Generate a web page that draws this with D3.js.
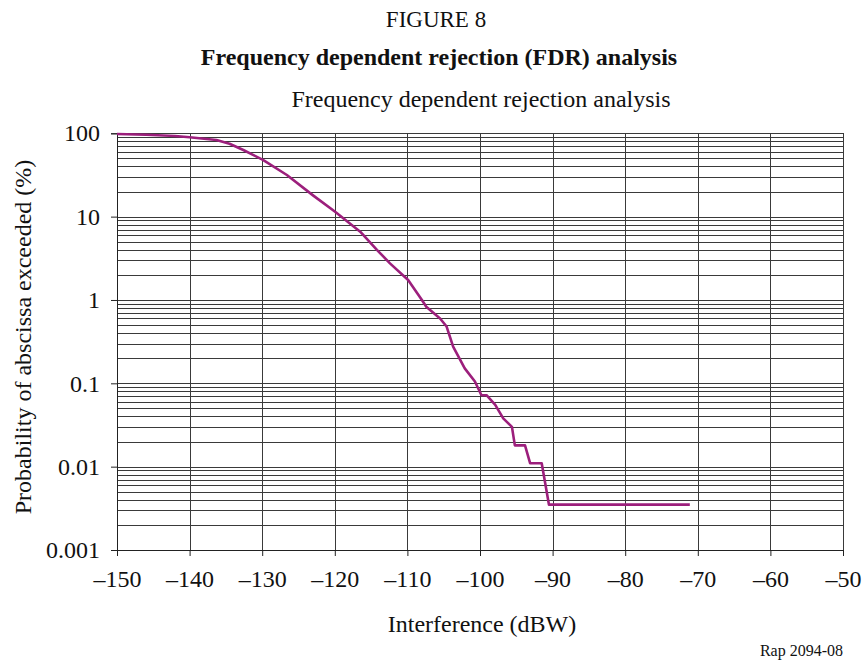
<!DOCTYPE html>
<html>
<head>
<meta charset="utf-8">
<script src="https://cdn.jsdelivr.net/npm/d3@7"></script>
<style>
  html, body { margin: 0; padding: 0; background: #fff; }
  svg { display: block; font-family: "Liberation Serif", "Times New Roman", serif; }
</style>
</head>
<body>
<svg id="chart" width="865" height="662"></svg>
<script>
// Interference level (dBW) and probability that it is exceeded (%)
const interference = [-150, -146, -142, -140, -138, -136.3, -134.5, -132.6, -129.9, -126.6, -123, -120,
  -116.5, -114.2, -112.4, -109.9, -108.0, -107.4, -105.5, -104.6, -103.7, -102.1, -100.7, -99.8, -99.1,
  -97.9, -96.8, -95.6, -95.2, -93.8, -93.1, -91.5, -90.5, -71.1];
const probability = [98, 96, 93, 89.5, 86, 83, 75, 63, 48, 31.6, 18, 11.5,
  6.6, 4.0, 2.75, 1.74, 1.0, 0.83, 0.60, 0.48, 0.275, 0.151, 0.105, 0.072, 0.072,
  0.055, 0.038, 0.030, 0.018, 0.018, 0.011, 0.011, 0.0035, 0.0035];

const xTicks = [-150, -140, -130, -120, -110, -100, -90, -80, -70, -60, -50];
const yTicks = [100, 10, 1, 0.1, 0.01, 0.001];
const yTickLabels = ["100", "10", "1", "0.1", "0.01", "0.001"];

(function draw() {
  const svg = d3.select("#chart");
  const mLeft = 117, mRight = 843, mTop = 133.3, mBottom = 550;
  const ink = "#111";

  const x = d3.scaleLinear().domain([-150, -50]).range([mLeft, mRight]);
  const y = d3.scaleLog().domain([0.001, 100]).range([mBottom, mTop]);

  // Grid: minor log lines (2..9 per decade) plus decades, and vertical lines every 10 dB
  const minor = [];
  for (let d = 0.001; d < 100; d *= 10) {
    for (let m = 2; m <= 9; m++) minor.push(+(d * m).toPrecision(3));
  }
  const grid = svg.append("g").attr("shape-rendering", "crispEdges");
  grid.selectAll("line.h").data(minor.concat(yTicks)).join("line")
    .attr("x1", mLeft).attr("x2", mRight)
    .attr("y1", d => Math.round(y(d)) + 0.5).attr("y2", d => Math.round(y(d)) + 0.5)
    .attr("stroke", "#3a3a3a").attr("stroke-width", 1);
  grid.selectAll("line.v").data(xTicks).join("line")
    .attr("x1", d => Math.round(x(d)) + 0.5).attr("x2", d => Math.round(x(d)) + 0.5)
    .attr("y1", mTop).attr("y2", mBottom)
    .attr("stroke", "#3a3a3a").attr("stroke-width", 1);

  // Axes
  const xAxis = d3.axisBottom(x).tickValues(xTicks).tickSize(6).tickPadding(14)
    .tickFormat(d => String(d).replace("-", "\u2013"));
  const gx = svg.append("g").attr("transform", `translate(0,${mBottom})`).call(xAxis);
  gx.select(".domain").attr("stroke", "#222");
  gx.selectAll(".tick line").attr("stroke", "#222");
  gx.selectAll("text").attr("font-size", 24).attr("fill", ink)
    .attr("font-family", "Liberation Serif");

  const yAxis = d3.axisLeft(y).tickValues(yTicks).tickSize(6).tickPadding(11)
    .tickFormat((d, i) => yTickLabels[i]);
  const gy = svg.append("g").attr("transform", `translate(${mLeft},0)`).call(yAxis);
  gy.select(".domain").attr("stroke", "#222");
  gy.selectAll(".tick line").attr("stroke", "#222");
  gy.selectAll("text").attr("font-size", 24).attr("fill", ink)
    .attr("font-family", "Liberation Serif");

  // Exceedance curve
  const line = d3.line().x((d, i) => x(interference[i])).y(d => y(d));
  svg.append("path").datum(probability)
    .attr("d", line)
    .attr("fill", "none")
    .attr("stroke", "#9c1f7c")
    .attr("stroke-width", 2.6)
    .attr("stroke-linejoin", "round");

  // Titles and labels
  svg.append("text").attr("x", 436).attr("y", 27).attr("text-anchor", "middle")
    .attr("font-size", 23).attr("fill", ink).text("FIGURE 8");
  svg.append("text").attr("x", 439).attr("y", 65).attr("text-anchor", "middle")
    .attr("font-size", 24).attr("font-weight", "bold").attr("fill", ink)
    .text("Frequency dependent rejection (FDR) analysis");
  svg.append("text").attr("x", 481).attr("y", 107).attr("text-anchor", "middle")
    .attr("font-size", 24).attr("fill", ink)
    .text("Frequency dependent rejection analysis");
  svg.append("text").attr("x", 482).attr("y", 632).attr("text-anchor", "middle")
    .attr("font-size", 24).attr("fill", ink).text("Interference (dBW)");
  svg.append("text")
    .attr("transform", "translate(31,337) rotate(-90)")
    .attr("text-anchor", "middle")
    .attr("font-size", 24).attr("fill", ink)
    .text("Probability of abscissa exceeded (%)");
  svg.append("text").attr("x", 843).attr("y", 656).attr("text-anchor", "end")
    .attr("font-size", 16).attr("fill", ink).text("Rap 2094-08");
})();
</script>
</body>
</html>
